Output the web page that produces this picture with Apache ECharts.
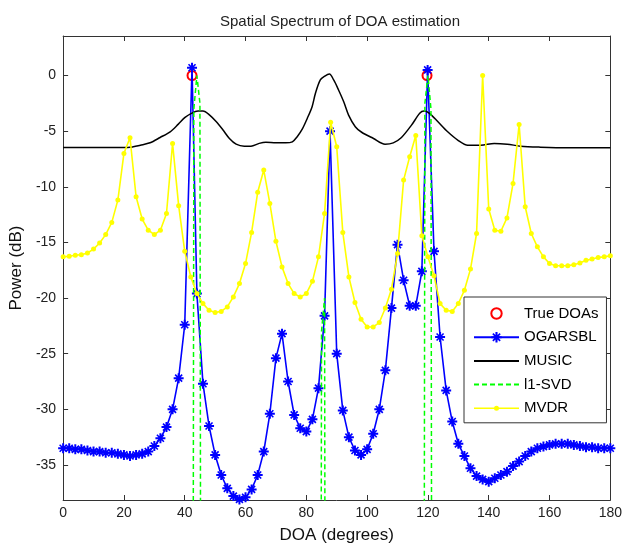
<!DOCTYPE html>
<html>
<head>
<meta charset="utf-8">
<script src="https://cdn.jsdelivr.net/npm/echarts@6/dist/echarts.min.js"></script>
<style>html,body{margin:0;padding:0;background:#fff}#c{width:625px;height:550px}</style>
</head>
<body>
<div id="c"></div>
<script>
// ---- data ----
const yTicks = [-35, -30, -25, -20, -15, -10, -5, 0];

const trueDoaX = [42.4, 119.7];
const trueDoaY = [0, 0];

const ogarsblX = [0,2,4,6,8,10,12,14,16,18,20,22,24,26,28,30,32,34,36,38,40,42.4,44,46,48,50,52,54,56,58,60,62,64,66,68,70,72,74,76,78,80,82,84,86,87.8,90,92,94,96,98,100,102,104,106,108,110,112,114,116,118,119.9,122,124,126,128,130,132,134,136,138,140,142,144,146,148,150,152,154,156,158,160,162,164,166,168,170,172,174,176,178,180];
const ogarsblY = [-33.5,-33.5,-33.6,-33.6,-33.7,-33.8,-33.8,-33.9,-33.9,-34.0,-34.1,-34.2,-34.1,-34.0,-33.8,-33.3,-32.6,-31.6,-30.0,-27.2,-22.4,0.7,-19.6,-27.7,-31.5,-34.1,-35.9,-37.1,-37.8,-38.1,-37.9,-37.2,-35.9,-33.8,-30.4,-25.4,-23.2,-27.5,-30.5,-31.7,-32.0,-30.9,-28.1,-21.6,-5.0,-25.0,-30.1,-32.5,-33.7,-34.1,-33.6,-32.2,-30.0,-26.5,-20.9,-15.2,-18.4,-20.7,-20.7,-17.6,0.5,-15.8,-23.5,-28.3,-31.1,-33.1,-34.2,-35.3,-36.0,-36.3,-36.5,-36.2,-35.9,-35.6,-35.1,-34.7,-34.2,-33.8,-33.5,-33.35,-33.2,-33.1,-33.1,-33.1,-33.2,-33.3,-33.4,-33.4,-33.5,-33.5,-33.5];

const musicX = [0,10,20,22,25.4,28.6,31.9,35.2,37.9,40.1,42.2,44.4,46,48.2,50.4,52.6,54.7,56.9,59.6,61.8,64.5,66.7,70,73.2,75.4,77,78.7,80.3,81.9,83,84.6,86.1,87.6,89,90.6,92.3,93.9,96.1,98.2,102.1,105.9,108.6,111.3,114.6,117.3,118.7,120.5,123.3,126.5,129.8,133.1,137.4,141.8,146.1,150.5,157,165.7,180];
const musicY = [-6.47,-6.47,-6.47,-6.45,-6.26,-6.05,-5.57,-5.06,-4.37,-3.77,-3.4,-3.2,-3.2,-3.56,-4.16,-4.9,-5.66,-6.17,-6.35,-6.35,-6.1,-6.0,-6.05,-6.05,-5.96,-5.5,-4.8,-3.86,-2.8,-1.6,-0.4,-0.05,0.13,-0.4,-1.3,-2.36,-3.56,-4.6,-5.1,-5.66,-6.17,-6.05,-5.57,-4.46,-3.4,-3.2,-3.4,-4.16,-5.06,-5.8,-6.26,-6.26,-6.1,-6.17,-6.35,-6.44,-6.5,-6.5];

const l1svdX = [42,43,44,45,46,84,85,86,87,118,119,120,121,122];
const l1svdY = [-200,-3,0,-2.5,-200,-200,-23,-20,-200,-200,-2.5,0,-3,-200];

const mvdrX = [0,2,4,6,8,10,12,14,16,18,20,22,24,26,28,30,32,34,36,38,40,42,44,46,48,50,52,54,56,58,60,62,64,66,68,70,72,74,76,78,80,82,84,86,88,90,92,94,96,98,100,102,104,106,108,110,112,114,116,118,120,122,124,126,128,130,132,134,136,138,140,142,144,146,148,150,152,154,156,158,160,162,164,166,168,170,172,174,176,178,180];
const mvdrY = [-16.3,-16.25,-16.15,-16.1,-15.95,-15.6,-15.05,-14.3,-13.2,-11.2,-7.0,-5.6,-10.9,-12.9,-13.9,-14.3,-13.9,-12.4,-6.1,-11.7,-15.8,-18.1,-19.6,-20.5,-21.1,-21.3,-21.2,-20.8,-19.9,-18.7,-16.9,-14.1,-10.5,-8.5,-11.5,-14.9,-17.2,-18.7,-19.6,-19.9,-19.6,-18.5,-16.3,-12.4,-4.2,-6.4,-14.1,-18.1,-20.4,-21.9,-22.6,-22.6,-22.2,-20.9,-19.2,-16.0,-9.4,-7.3,-5.4,-14.4,-16.3,-18.0,-20.5,-21.1,-21.2,-20.5,-19.3,-17.4,-14.2,0.0,-12.0,-13.9,-14.0,-12.8,-9.7,-4.4,-11.8,-14.2,-15.4,-16.3,-16.9,-17.1,-17.1,-17.1,-17.0,-16.85,-16.6,-16.5,-16.35,-16.3,-16.2];

// ---- chart ----
const pairs = (xs, ys) => xs.map((x, i) => [x, ys[i]]);
const FONT = '"Liberation Sans", Arial, Helvetica, sans-serif';
const AX = '#333';
const STAR = 'path://M4,0L6,0L6,10L4,10Z M0,4L10,4L10,6L0,6Z M0.93,2.07L2.07,0.93L9.07,7.93L7.93,9.07Z M7.93,0.93L9.07,2.07L2.07,9.07L0.93,7.93Z';
const MVDR_ICON = 'path://M0,6.25L45,6.25L45,7.75L0,7.75Z M25,7A2.5,2.5 0 1,1 20,7A2.5,2.5 0 1,1 25,7Z';

const chart = echarts.init(document.getElementById('c'), null, {renderer: 'canvas'});
const baseX = {
  type: 'value', min: 0, max: 180, interval: 20,
  axisLine: {show: true, onZero: false, lineStyle: {color: AX, width: 1}},
  axisTick: {show: true, inside: true, length: 5, lineStyle: {color: AX}},
  splitLine: {show: false}
};
const baseY = {
  type: 'value', min: -38.15, max: 3.55,
  axisLine: {show: true, onZero: false, lineStyle: {color: AX, width: 1}},
  axisTick: {show: true, inside: true, length: 5, customValues: yTicks, lineStyle: {color: AX}},
  splitLine: {show: false}
};
chart.setOption({
  animation: false,
  backgroundColor: '#fff',
  textStyle: {fontFamily: FONT},
  title: {
    text: 'Spatial Spectrum of DOA estimation',
    left: 335, top: 9, textAlign: 'center',
    textStyle: {fontFamily: FONT, fontSize: 15, fontWeight: 'normal', color: '#222'}
  },
  grid: {left: 60.5, right: 14, top: 36, bottom: 50, containLabel: false},
  xAxis: [
    Object.assign({}, baseX, {
      position: 'bottom',
      axisLabel: {show: true, color: '#222', fontSize: 14, margin: 6, fontFamily: FONT},
      name: 'DOA (degrees)', nameLocation: 'middle', nameGap: 27,
      nameTextStyle: {fontSize: 17, color: '#111', fontFamily: FONT}
    }),
    Object.assign({}, baseX, {position: 'top', axisLabel: {show: false}})
  ],
  yAxis: [
    Object.assign({}, baseY, {
      position: 'left',
      axisLabel: {show: true, customValues: yTicks, color: '#222', fontSize: 14, margin: 7, fontFamily: FONT},
      name: 'Power (dB)', nameLocation: 'middle', nameGap: 36, nameRotate: 90,
      nameTextStyle: {fontSize: 17, color: '#111', fontFamily: FONT}
    }),
    Object.assign({}, baseY, {position: 'right', axisLabel: {show: false}})
  ],
  legend: {
    orient: 'vertical', left: 464, top: 297,
    padding: [9, 8, 7, 9],
    itemWidth: 45, itemHeight: 13, itemGap: 8.7,
    borderColor: '#333', borderWidth: 1, backgroundColor: '#fff',
    selectedMode: false,
    textStyle: {fontFamily: FONT, fontSize: 15, color: '#000', lineHeight: 13},
    data: [
      {name: 'True DOAs', lineStyle: {opacity: 0}},
      {name: 'OGARSBL'},
      {name: 'MUSIC', itemStyle: {opacity: 0}},
      {name: 'l1-SVD', itemStyle: {opacity: 0}},
      {name: 'MVDR', icon: MVDR_ICON}
    ]
  },
  series: [
    {
      name: 'True DOAs', type: 'line', data: pairs(trueDoaX, trueDoaY),
      symbol: 'emptyCircle', symbolSize: 9,
      lineStyle: {opacity: 0, width: 0},
      itemStyle: {color: '#ff0000', borderWidth: 1.4},
      z: 3
    },
    {
      name: 'OGARSBL', type: 'line', data: pairs(ogarsblX, ogarsblY),
      symbol: STAR, symbolSize: 10,
      lineStyle: {color: '#0000ff', width: 1.6},
      itemStyle: {color: '#0000ff'},
      z: 4
    },
    {
      name: 'MUSIC', type: 'line', data: pairs(musicX, musicY),
      symbol: 'none', smooth: 0.3,
      lineStyle: {color: '#000000', width: 1.5},
      itemStyle: {color: '#000000'},
      z: 5
    },
    {
      name: 'l1-SVD', type: 'line', data: pairs(l1svdX, l1svdY),
      symbol: 'none',
      lineStyle: {color: '#00ff00', width: 1.5, type: [5, 3]},
      itemStyle: {color: '#00ff00'},
      z: 6
    },
    {
      name: 'MVDR', type: 'line', data: pairs(mvdrX, mvdrY),
      symbol: 'circle', symbolSize: 5,
      lineStyle: {color: '#ffff00', width: 1.6},
      itemStyle: {color: '#ffff00'},
      z: 7
    }
  ]
});
</script>
</body>
</html>
